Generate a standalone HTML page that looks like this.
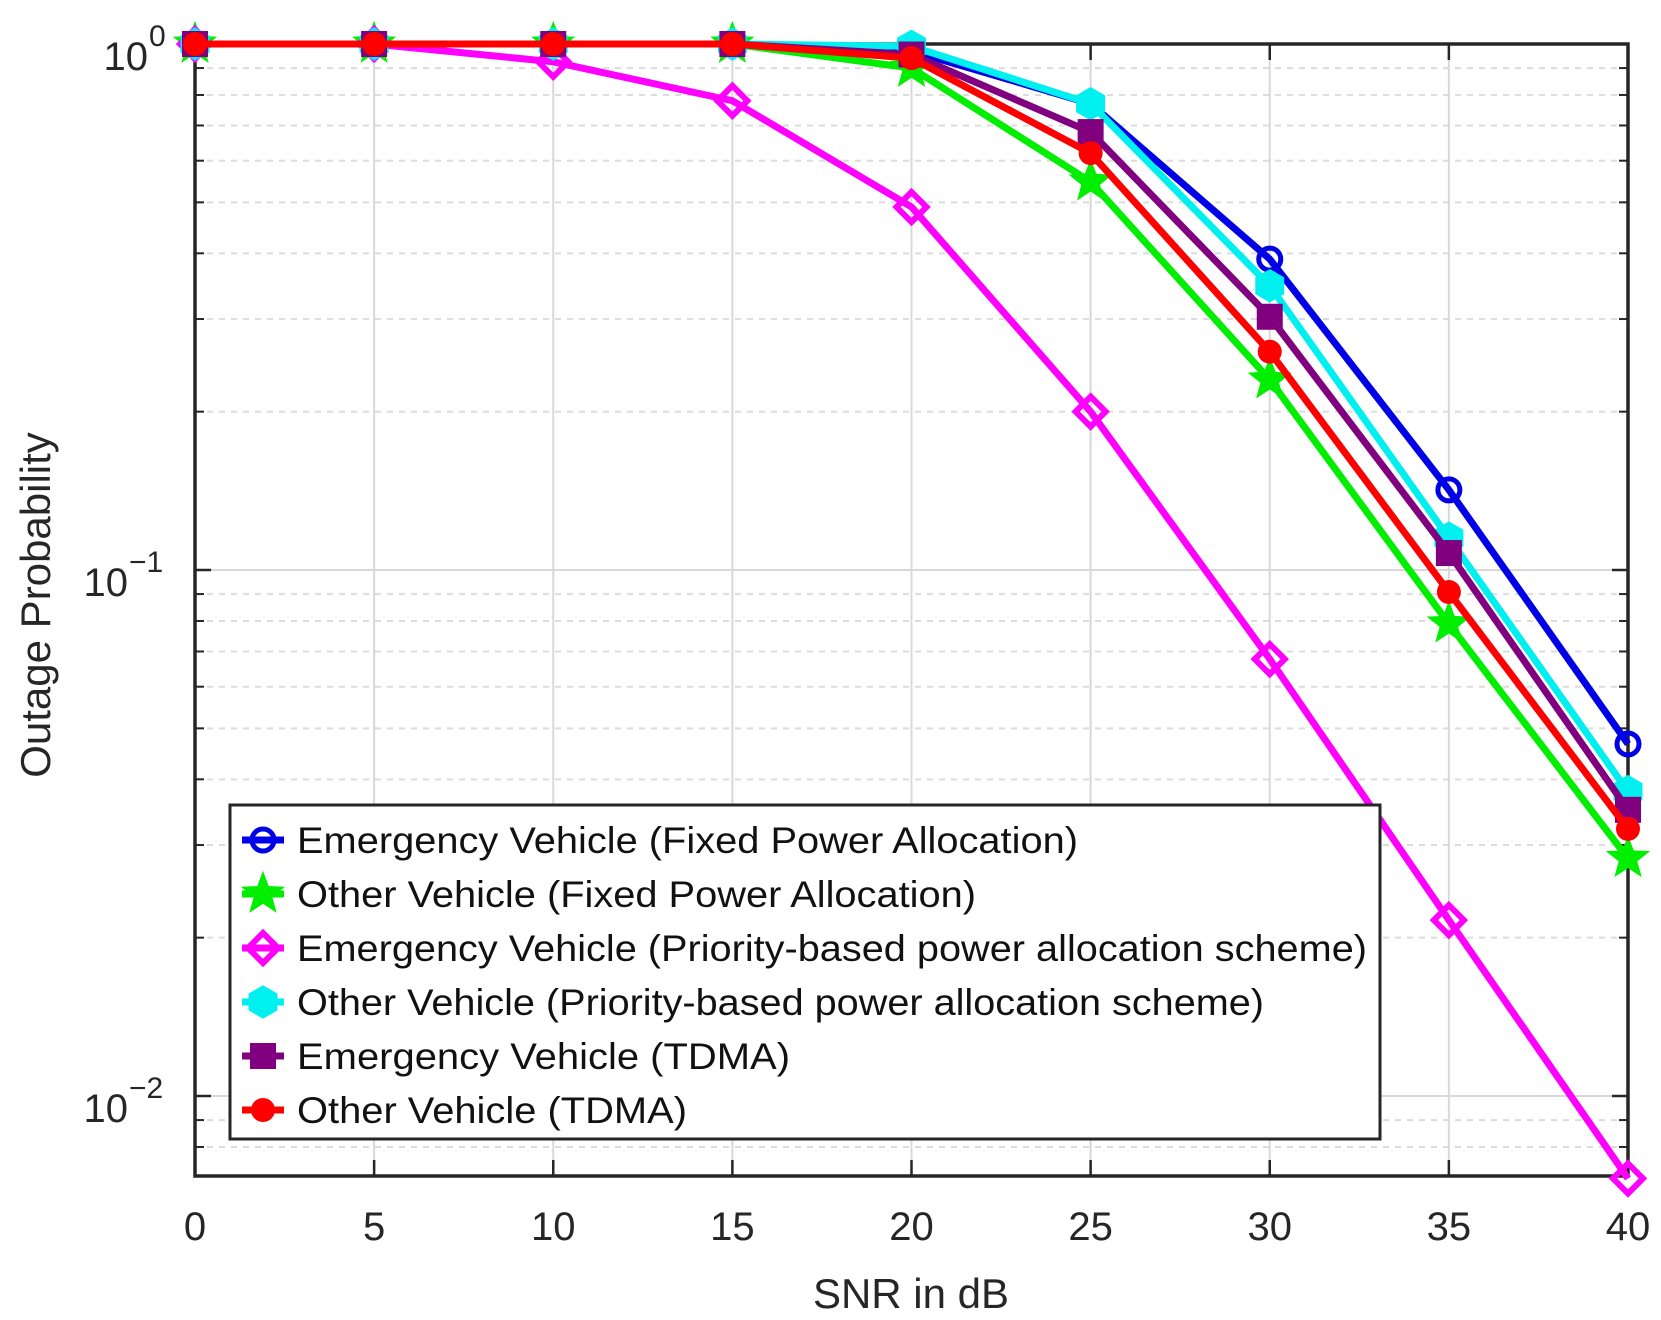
<!DOCTYPE html>
<html><head><meta charset="utf-8"><style>
html,body{margin:0;padding:0;background:#fff;}
svg{display:block;font-family:"Liberation Sans",Arial,sans-serif;}
</style></head><body>
<svg id="chart" width="1661" height="1320" viewBox="0 0 1661 1320">
<g id="grid"></g>
<g id="axes"></g>
<g id="series"></g>
<g id="legend"></g>
<text x="911" y="1308" font-size="42" text-anchor="middle" fill="#262626">SNR in dB</text>
<text transform="translate(50,605) rotate(-90)" font-size="42" text-anchor="middle" fill="#262626">Outage Probability</text>
</svg>
<script>
const snr = [0,5,10,15,20,25,30,35,40];
const xTicks = [0,5,10,15,20,25,30,35,40];
const yTickExps = [0,-1,-2];
const evFixed = [1,1,1,1,0.97,0.77,0.39,0.142,0.0467];
const ovFixed = [1,1,1,1,0.90,0.547,0.23,0.079,0.0283];
const evPriority = [1,1,0.925,0.78,0.49,0.2,0.0677,0.0216,0.00697];
const ovPriority = [1,1,1,1,0.99,0.77,0.347,0.115,0.0379];
const evTdma = [1,1,1,1,0.955,0.68,0.303,0.1077,0.035];
const ovTdma = [1,1,1,1,0.94,0.62,0.26,0.0908,0.0322];
const labels = ["Emergency Vehicle (Fixed Power Allocation)","Other Vehicle (Fixed Power Allocation)","Emergency Vehicle (Priority-based power allocation scheme)","Other Vehicle (Priority-based power allocation scheme)","Emergency Vehicle (TDMA)","Other Vehicle (TDMA)"];
const labelWidths = [781,679,1070,967,493,390];

const NS="http://www.w3.org/2000/svg";
const L=195,R=1628,T=44,B=1176,DEC=526;
const xs=v=>L+(v-0)/(40-0)*(R-L);
const ys=v=>T-Math.log10(v)*DEC;
function mk(tag,attrs,parent){const e=document.createElementNS(NS,tag);for(const k in attrs)e.setAttribute(k,attrs[k]);parent.appendChild(e);return e;}
const grid=document.getElementById('grid'),axes=document.getElementById('axes'),ser=document.getElementById('series'),leg=document.getElementById('legend');
mk('rect',{x:L,y:T,width:R-L,height:B-T,fill:'#fff'},grid);
for(let d=0;d>=-3;d--){for(let m=2;m<=9;m++){const v=m*Math.pow(10,d-1);const y=ys(v);if(y<=T||y>=B)continue;
const g=mk('line',{x1:L,x2:R,y1:y,y2:y,stroke:'#dcdcdc','stroke-width':2,'stroke-dasharray':'6,6'},grid);


mk('line',{x1:L,x2:L+9,y1:y,y2:y,stroke:'#262626','stroke-width':2},axes);
mk('line',{x1:R,x2:R-9,y1:y,y2:y,stroke:'#262626','stroke-width':2},axes);}}
yTickExps.forEach(e=>{const y=ys(Math.pow(10,e));
const g=mk('line',{x1:L,x2:R,y1:y,y2:y,stroke:'#d8d8d8','stroke-width':2},grid);


mk('line',{x1:L,x2:L+16,y1:y,y2:y,stroke:'#262626','stroke-width':2.5},axes);
mk('line',{x1:R,x2:R-16,y1:y,y2:y,stroke:'#262626','stroke-width':2.5},axes);
const t=mk('text',{x:e===0?148:128,y:y+26,'font-size':40,'text-anchor':'end',fill:'#262626'},axes);
t.textContent='10';


const s=mk('text',{x:e===0?149:129,y:y+2,'font-size':30,'text-anchor':'start',fill:'#262626'},axes);
s.textContent=e===0?'0':'\u2212'+(-e);});
xTicks.forEach(v=>{const x=xs(v);
if(v>0&&v<40){const g=mk('line',{x1:x,x2:x,y1:T,y2:B,stroke:'#d8d8d8','stroke-width':2},grid);

}
mk('line',{x1:x,x2:x,y1:B,y2:B-16,stroke:'#262626','stroke-width':2.5},axes);
mk('line',{x1:x,x2:x,y1:T,y2:T+16,stroke:'#262626','stroke-width':2.5},axes);
const t=mk('text',{x:x,y:1240,'font-size':40,'text-anchor':'middle',fill:'#262626'},axes);
t.textContent=String(v);

});
mk('rect',{x:L,y:T,width:R-L,height:B-T,fill:'none',stroke:'#262626','stroke-width':3.5},axes);

function marker(type,x,y,col,parent){
 if(type==='o')return mk('circle',{cx:x,cy:y,r:11,fill:'none',stroke:col,'stroke-width':5},parent);
 if(type==='star'){let p=[];for(let i=0;i<10;i++){const r=i%2?8:19;const a=-Math.PI/2+i*Math.PI/5;p.push((x+r*Math.cos(a)).toFixed(1)+','+(y+r*Math.sin(a)).toFixed(1));}return mk('polygon',{points:p.join(' '),fill:col,stroke:col,'stroke-width':3},parent);}
 if(type==='d')return mk('polygon',{points:`${x},${y-15} ${x+15},${y} ${x},${y+15} ${x-15},${y}`,fill:'none',stroke:col,'stroke-width':6},parent);
 if(type==='hex'){let p=[];for(let i=0;i<6;i++){const a=Math.PI/2+i*Math.PI/3;p.push((x+15*Math.cos(a)).toFixed(1)+','+(y+15*Math.sin(a)).toFixed(1));}return mk('polygon',{points:p.join(' '),fill:col,stroke:col,'stroke-width':3},parent);}
 if(type==='s')return mk('rect',{x:x-12,y:y-12,width:24,height:24,fill:col,stroke:col,'stroke-width':2},parent);
 return mk('circle',{cx:x,cy:y,r:12,fill:col},parent);
}
const seriesList=[[evFixed,'#0000e6','o','series-ev-fixed'],[ovFixed,'#00ee00','star','series-ov-fixed'],[evPriority,'#ff00ff','d','series-ev-priority'],[ovPriority,'#00f0f0','hex','series-ov-priority'],[evTdma,'#800080','s','series-ev-tdma'],[ovTdma,'#ff0000','dot','series-ov-tdma']];
seriesList.forEach(([vals,col,m,name])=>{
 const g=mk('g',{},ser);
 
 
 mk('polyline',{points:vals.map((v,i)=>xs(snr[i])+','+ys(v)).join(' '),fill:'none',stroke:col,'stroke-width':7,'stroke-linejoin':'round'},g);
 vals.forEach((v,i)=>{const mm=marker(m,xs(snr[i]),ys(v),col,g);
 
 });
});
mk('rect',{x:230,y:805,width:1150,height:334,fill:'#fff',stroke:'#262626','stroke-width':3},leg);
seriesList.forEach(([vals,col,m,name],i)=>{
 const y=840+i*54;
 const g=mk('g',{},leg);
 
 
 mk('line',{x1:242,x2:284,y1:y,y2:y,stroke:col,'stroke-width':7},g);
 marker(m,263,y,col,g);
 const t=mk('text',{x:297,y:y+13,'font-size':37,fill:'#111',textLength:labelWidths[i],lengthAdjust:'spacingAndGlyphs'},g);
 t.textContent=labels[i];
});
</script>
</body></html>
